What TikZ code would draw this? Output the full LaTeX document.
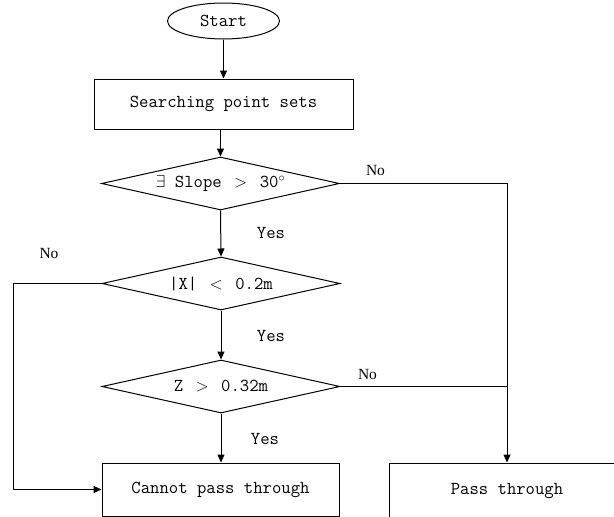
\documentclass[tikz,border=0pt]{standalone}
\usepackage{fontspec}
\newfontfamily\nofont{Liberation Serif}
\usetikzlibrary{shapes.geometric,arrows.meta}
\tikzset{
  base/.style={draw=black, line width=1pt, inner sep=0pt, font=\ttfamily\fontsize{18.2}{20}\selectfont},
  term/.style={base, ellipse, minimum width=112pt, minimum height=36pt},
  proc/.style={base, rectangle, minimum height=52pt},
  dec/.style={base, diamond, shape aspect=4.5, minimum width=238pt, minimum height=53pt},
  flow/.style={line width=1pt, -{Triangle[length=8pt,width=7pt]}},
  line/.style={line width=1pt},
  yes/.style={font=\ttfamily\fontsize{18.2}{20}\selectfont},
  no/.style={font=\nofont\fontsize{15.5}{18}\selectfont}
}
\begin{document}
\begin{tikzpicture}[x=1pt,y=-1pt]
\useasboundingbox (0,0) rectangle (614,517);
\clip (0,0) rectangle (614,517);
\node[term] (start) at (223.5,21) {Start};
\node[proc, minimum width=259pt, minimum height=50pt] (search) at (223.5,104) {Searching point sets};
\node[dec] (d1) at (220.5,183.5) {$\exists$ Slope \,$>$\, 30$^{\circ}$};
\node[dec] (d2) at (221,283.5) {|X| \,$<$\, 0.2m};
\node[dec] (d3) at (221,386.5) {Z \,$>$\, 0.32m};
\node[proc, minimum width=237pt, minimum height=53pt] (cannot) at (220.5,489.5) {Cannot pass through};
\node[proc, minimum width=236pt, minimum height=56pt] (pass) at (507,491) {Pass through};
\coordinate (lx) at (13,283.5);

\draw[flow] (start.south) -- (start.south |- search.north);
\draw[flow] (search.south -| d1.north) -- (d1.north);
\draw[flow] (d1.east) -| (pass.north);
\draw[flow] (d1.south) -- (d2.north);
\draw[flow] (d2.south) -- (d3.north);
\draw[flow] (d3.south) -- (d3.south |- cannot.north);
\draw[flow] (d2.west) -- (lx) |- (cannot.west);
\draw[line] (d3.east) -- (d3.east -| pass.north);

\node[no] (no1) at (375.5,170) {No};
\node[no] (no2) at (49,253) {No};
\node[no] (no3) at (367.5,374) {No};
\node[yes] (y1) at (271,233) {Yes};
\node[yes] (y2) at (271,336) {Yes};
\node[yes] (y3) at (265,439) {Yes};
\end{tikzpicture}
\end{document}
